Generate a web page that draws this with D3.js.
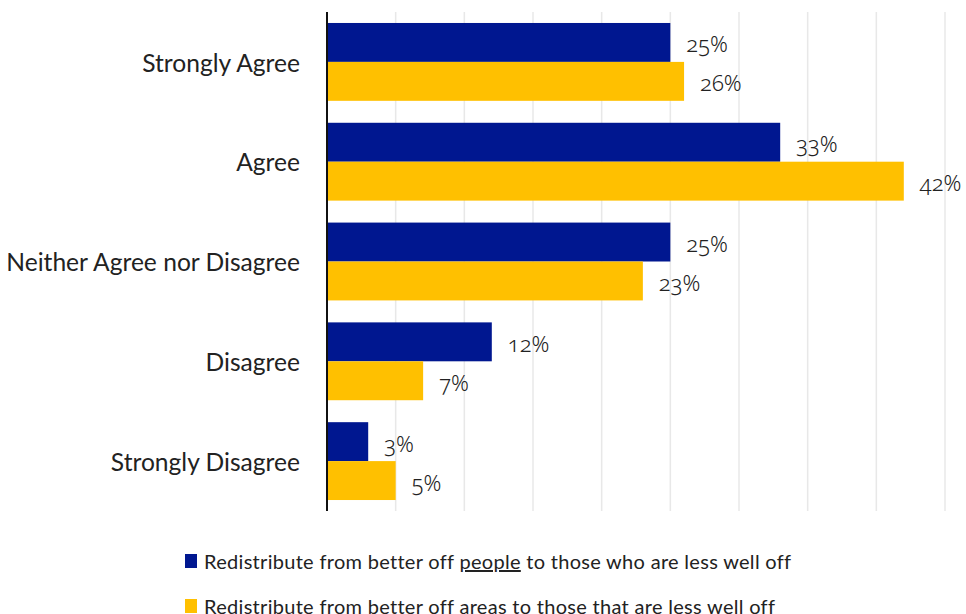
<!DOCTYPE html>
<html><head><meta charset="utf-8">
<script src="https://cdn.jsdelivr.net/npm/d3@7"></script>
<style>
html,body{margin:0;padding:0;background:#fff;}
svg text{font-family:Lato,"Noto Sans",sans-serif;fill:#222;}
svg text.val{font-family:"Noto Sans",Lato,sans-serif;font-variant-numeric:oldstyle-nums;font-weight:300;}
</style></head>
<body><svg id="c" width="966" height="614"></svg>
<script>
const categories = ["Strongly Agree","Agree","Neither Agree nor Disagree","Disagree","Strongly Disagree"];
const peopleValues = [25,33,25,12,3];
const areasValues = [26,42,23,7,5];
const seriesNames = ["Redistribute from better off people to those who are less well off","Redistribute from better off areas to those that are less well off"];
const xTicks = [0,5,10,15,20,25,30,35,40,45];
const colors = ["#001790","#FFC000"];

const svg = d3.select("#c");
const m = {left:327, right:945, top:12, bottom:511};
const x = d3.scaleLinear().domain([0,45]).range([m.left, m.right]);
const y = d3.scaleBand().domain(categories).range([m.top, m.bottom]).paddingInner(0.22).paddingOuter(0.11);
const ySub = d3.scaleBand().domain([0,1]).range([0, y.bandwidth()]);

svg.append("g").selectAll("line").data(xTicks.slice(1)).join("line")
  .attr("x1", d=>x(d)).attr("x2", d=>x(d)).attr("y1", m.top).attr("y2", m.bottom)
  .attr("stroke","#e8e8e8").attr("stroke-width",1.5);

const rows = categories.map((c,i)=>({c, vals:[peopleValues[i], areasValues[i]]}));

const g = svg.append("g").selectAll("g").data(rows).join("g")
  .attr("transform", d=>`translate(0,${y(d.c)})`);
g.selectAll("rect").data(d=>d.vals.map((v,k)=>({v,k}))).join("rect")
  .attr("x", x(0)).attr("y", d=>ySub(d.k)).attr("width", d=>x(d.v)-x(0)).attr("height", ySub.bandwidth())
  .attr("fill", d=>colors[d.k]);
g.selectAll("text.val").data(d=>d.vals.map((v,k)=>({v,k}))).join("text").attr("class","val")
  .attr("x", d=>x(d.v)+16).attr("y", d=>ySub(d.k)+ySub.bandwidth()/2+10)
  .attr("font-size",22).text(d=>d.v+"%");

const yAxis = svg.append("g").attr("transform",`translate(${m.left},0)`)
  .call(d3.axisLeft(y).tickSize(0).tickPadding(27));
yAxis.select(".domain").attr("stroke","#111").attr("stroke-width",2)
  .attr("d", `M0,${m.top}V${m.bottom}`);
yAxis.selectAll("text").attr("font-size",24.6).attr("font-family",'Lato,"Noto Sans",sans-serif').attr("fill","#222").attr("dy","0.39em");

const lg = svg.append("g").selectAll("g").data(seriesNames).join("g")
  .attr("transform",(d,i)=>`translate(185,${554+i*45})`);
lg.append("rect").attr("width",12).attr("height",14).attr("fill",(d,i)=>colors[i]);
lg.each(function(d,i){
  const t = d3.select(this).append("text").attr("x",19).attr("y",15).attr("font-size",20).attr("letter-spacing",0.3);
  if(i===0){
    const parts = d.split("people");
    t.append("tspan").text(parts[0]);
    t.append("tspan").attr("text-decoration","underline").text("people");
    t.append("tspan").text(parts[1]);
  } else t.text(d);
});
</script></body></html>
